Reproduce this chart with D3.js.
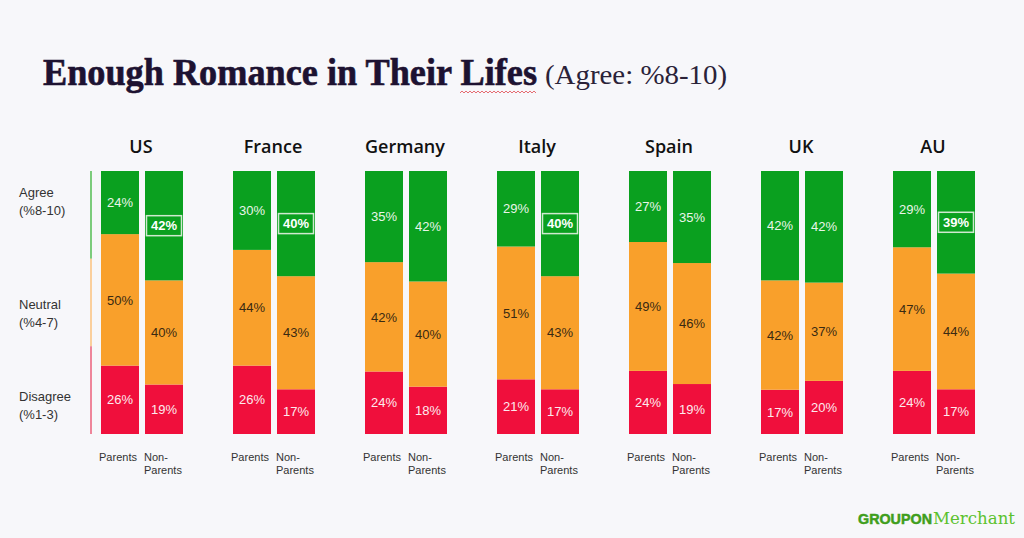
<!DOCTYPE html>
<html>
<head>
<meta charset="utf-8">
<script src="https://cdn.jsdelivr.net/npm/d3@7"></script>
<style>
  html, body { margin: 0; padding: 0; background: #f7f7fa; }
  svg { display: block; }
</style>
</head>
<body>
<svg id="chart" width="1024" height="538"></svg>
<script>
const countries = ["US", "France", "Germany", "Italy", "Spain", "UK", "AU"];
const groups = ["Parents", "Non-Parents"];
const agreeParents    = [24, 30, 35, 29, 27, 42, 29];
const neutralParents  = [50, 44, 42, 51, 49, 42, 47];
const disagreeParents = [26, 26, 24, 21, 24, 17, 24];
const agreeNon        = [42, 40, 42, 40, 35, 42, 39];
const neutralNon      = [40, 43, 40, 43, 46, 37, 44];
const disagreeNon     = [19, 17, 18, 17, 19, 20, 17];
const highlightNon    = ["US", "France", "Italy", "AU"];
const levels = ["Disagree", "Neutral", "Agree"];
const levelLabels = [["Agree", "(%8-10)"], ["Neutral", "(%4-7)"], ["Disagree", "(%1-3)"]];

const svg = d3.select("#chart");
svg.append("rect").attr("width", 1024).attr("height", 538).attr("fill", "#f7f7fa");

const colors = { Agree: "#0aa01f", Neutral: "#f9a02b", Disagree: "#f00f3c" };
const textColors = { Agree: "#e9f5e9", Neutral: "#3a2a12", Disagree: "#fdeaee" };
const guideColors = { Agree: "#5cc05c", Neutral: "#fbc585", Disagree: "#ec6882" };

const rows = [];
countries.forEach((c, i) => {
  rows.push({ country: c, group: "Parents", Agree: agreeParents[i], Neutral: neutralParents[i], Disagree: disagreeParents[i], hl: false });
  rows.push({ country: c, group: "Non-Parents", Agree: agreeNon[i], Neutral: neutralNon[i], Disagree: disagreeNon[i], hl: highlightNon.includes(c) });
});

const yTop = 171, yBottom = 434;
const x0 = d3.scaleBand().domain(countries).range([101, 975]).paddingInner(50 / 132).paddingOuter(0);
const x1 = d3.scaleBand().domain(groups).range([0, x0.bandwidth()]).paddingInner(6 / 44).paddingOuter(0);

// Title
svg.append("text")
  .attr("x", 43).attr("y", 85)
  .attr("font-family", "Liberation Serif, serif")
  .attr("font-weight", "bold")
  .attr("font-size", 37)
  .attr("fill", "#1d1231")
  .attr("stroke", "#1d1231").attr("stroke-width", 0.6)
  .attr("textLength", 494).attr("lengthAdjust", "spacingAndGlyphs")
  .text("Enough Romance in Their Lifes");
svg.append("text")
  .attr("x", 545).attr("y", 84)
  .attr("font-family", "Liberation Serif, serif")
  .attr("font-size", 28)
  .attr("fill", "#2a2238")
  .attr("textLength", 182).attr("lengthAdjust", "spacingAndGlyphs")
  .text("(Agree: %8-10)");
const sq = d3.range(0, 39).map(k => [460 + k * 2, 92 + (k % 2 ? -1 : 1)]);
svg.append("path").attr("d", d3.line()(sq)).attr("fill", "none").attr("stroke", "#e0474f").attr("stroke-width", 0.8);

// Left guide line
const yThird = d3.scaleBand().domain(["Agree", "Neutral", "Disagree"]).range([yTop, yBottom]);
["Agree", "Neutral", "Disagree"].forEach(l => {
  svg.append("line")
    .attr("x1", 91).attr("x2", 91)
    .attr("y1", yThird(l)).attr("y2", yThird(l) + yThird.bandwidth())
    .attr("stroke", guideColors[l]).attr("stroke-width", 1.6);
});
const labelY = [197, 309, 401];
levelLabels.forEach((lab, i) => {
  const t = svg.append("text")
    .attr("x", 19).attr("y", labelY[i])
    .attr("font-family", "Liberation Sans, Arial, sans-serif")
    .attr("font-size", 13).attr("fill", "#333");
  t.append("tspan").attr("x", 19).attr("dy", 0).text(lab[0]);
  t.append("tspan").attr("x", 19).attr("dy", 17.5).text(lab[1]);
});

// Country titles
svg.selectAll("text.country").data(countries).join("text")
  .attr("class", "country")
  .attr("x", d => x0(d) + x0.bandwidth() / 2 - 1)
  .attr("y", 153)
  .attr("text-anchor", "middle")
  .attr("font-family", "Open Sans, sans-serif")
  .attr("font-weight", 600)
  .attr("font-size", 18)
  .attr("fill", "#111")
  .text(d => d);

// Bars
const stack = d3.stack().keys(levels);
rows.forEach(r => {
  const total = r.Agree + r.Neutral + r.Disagree;
  const y = d3.scaleLinear().domain([0, total]).range([yBottom, yTop]);
  const series = stack([r]);
  const bx = x0(r.country) + x1(r.group);
  const bw = x1.bandwidth();
  const g = svg.append("g");
  series.forEach(s => {
    const key = s.key;
    const seg = s[0];
    g.append("rect")
      .attr("x", bx).attr("width", bw)
      .attr("y", y(seg[1])).attr("height", y(seg[0]) - y(seg[1]))
      .attr("fill", colors[key]);
    const cy = (y(seg[0]) + y(seg[1])) / 2;
    const isHl = r.hl && key === "Agree";
    if (isHl) {
      g.append("rect")
        .attr("x", bx + 1.5).attr("width", bw - 3)
        .attr("y", cy - 10).attr("height", 20)
        .attr("fill", "none").attr("stroke", "#cfe9cf").attr("stroke-width", 1.5);
    }
    g.append("text")
      .attr("x", bx + bw / 2).attr("y", cy)
      .attr("dy", "0.36em")
      .attr("text-anchor", "middle")
      .attr("font-family", "Liberation Sans, Arial, sans-serif")
      .attr("font-size", 13)
      .attr("font-weight", isHl ? "bold" : "normal")
      .attr("fill", isHl ? "#ffffff" : textColors[key])
      .text(r[key] + "%");
  });
  if (r.group === "Parents") {
    svg.append("text")
      .attr("x", bx + bw / 2 - 2).attr("y", 461)
      .attr("text-anchor", "middle")
      .attr("font-family", "Liberation Sans, Arial, sans-serif")
      .attr("font-size", 11).attr("fill", "#333")
      .text("Parents");
  } else {
    const t = svg.append("text")
      .attr("x", bx - 1).attr("y", 461)
      .attr("font-family", "Liberation Sans, Arial, sans-serif")
      .attr("font-size", 11).attr("fill", "#333");
    t.append("tspan").attr("x", bx - 1).text("Non-");
    t.append("tspan").attr("x", bx - 1).attr("dy", 13).text("Parents");
  }
});

// Logo
svg.append("text")
  .attr("x", 858).attr("y", 524)
  .attr("font-family", "Liberation Sans, Arial, sans-serif")
  .attr("font-weight", "bold").attr("font-size", 14.5)
  .attr("fill", "#3f9e1c")
  .attr("stroke", "#3f9e1c").attr("stroke-width", 0.5)
  .attr("textLength", 74).attr("lengthAdjust", "spacingAndGlyphs")
  .text("GROUPON");
svg.append("text")
  .attr("x", 933).attr("y", 524)
  .attr("font-family", "DejaVu Serif, serif")
  .attr("font-size", 16)
  .attr("fill", "#5cc22e")
  .attr("textLength", 82).attr("lengthAdjust", "spacingAndGlyphs")
  .text("Merchant");
</script>
</body>
</html>
